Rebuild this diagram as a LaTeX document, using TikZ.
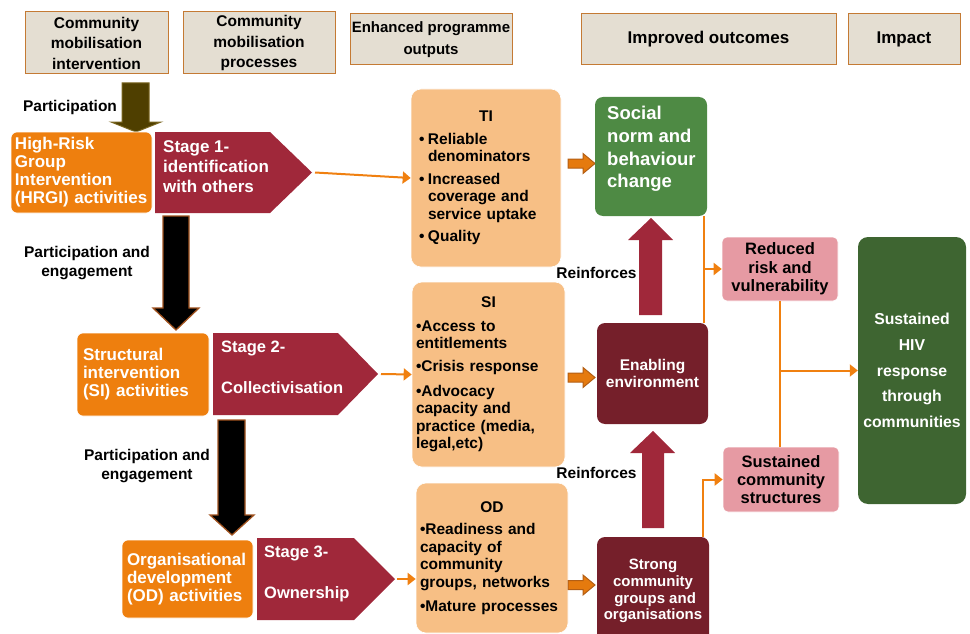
\documentclass[tikz,border=0pt]{standalone}
\usepackage{fontspec}
\setmainfont{Liberation Sans}
\usetikzlibrary{arrows.meta,calc}
\hyphenpenalty=10000
\exhyphenpenalty=10000
\definecolor{hdrfill}{HTML}{E4DED2}
\definecolor{hdrdraw}{HTML}{C47A34}
\definecolor{actfill}{HTML}{EE7F0E}
\definecolor{crim}{HTML}{A0283A}
\definecolor{outfill}{HTML}{F7BF85}
\definecolor{socgreen}{HTML}{4E8A44}
\definecolor{maroonbox}{HTML}{751F2A}
\definecolor{pinkbox}{HTML}{E69AA3}
\definecolor{hivgreen}{HTML}{3E6531}
\definecolor{connc}{HTML}{F08010}
\definecolor{thickfill}{HTML}{E57A0E}
\definecolor{thickdraw}{HTML}{B35E14}
\definecolor{olivefill}{HTML}{4F3F00}
\definecolor{olivedraw}{HTML}{7A6620}
\definecolor{blkdraw}{HTML}{A0521E}
\newcommand\fsz[2]{\fontsize{#1}{#2}\selectfont\bfseries}
\newcommand\bul{\makebox[9pt][l]{\textbullet}}
\newcommand\blockR[1]{\filldraw[thickarr] (568,#1-4.5) -- (583,#1-4.5) -- (583,#1-10) -- (595,#1) -- (583,#1+10) -- (583,#1+4.5) -- (568,#1+4.5) -- cycle;}
\begin{document}
\begin{tikzpicture}[x=1pt,y=-1pt,
  hdr/.style={draw=hdrdraw, fill=hdrfill, line width=1pt, inner sep=0pt, align=center},
  actbox/.style={fill=actfill, draw=white, line width=0.6pt, rounded corners=6pt, text=white, align=left, font=\fsz{17}{18}},
  stagetext/.style={text=white, align=left, inner sep=0pt, anchor=west},
  outbox/.style={fill=outfill, draw=white, line width=0.6pt, rounded corners=10pt, align=left},
  darkbox/.style={rounded corners=8pt, text=white, align=center, inner sep=0pt},
  pinkstyle/.style={fill=pinkbox, draw=white, line width=0.6pt, rounded corners=5pt, align=center, inner sep=0pt, font=\fsz{16.5}{18.3}},
  lbl/.style={align=center, inner sep=0pt, font=\fsz{15.5}{19}},
  conn/.style={draw=connc, line width=2pt, -{Triangle[length=8pt,width=12pt]}},
  connline/.style={draw=connc, line width=2pt},
  thickarr/.style={fill=thickfill, draw=thickdraw, line width=1pt},
  bigblack/.style={fill=black, draw=blkdraw, line width=1.3pt},
  reinf/.style={fill=crim}]
\useasboundingbox (0,0) rectangle (970,634);

% headers
\node[hdr, minimum width=143pt, minimum height=62pt, font=\fsz{15.5}{20.5}] (h1) at (96.5,43) {Community\\mobilisation\\intervention};
\node[hdr, minimum width=152pt, minimum height=62pt, font=\fsz{15.5}{20.5}] (h2) at (259,43) {Community\\mobilisation\\processes};
\node[hdr, minimum width=162pt, minimum height=51pt, font=\fsz{15}{22}] (h3) at (431,39.5) {Enhanced programme\\outputs};
\node[hdr, minimum width=255pt, minimum height=51pt, font=\fsz{17}{20}] (h4) at (708.5,39.5) {Improved outcomes};
\node[hdr, minimum width=112pt, minimum height=51pt, font=\fsz{17}{20}] (h5) at (904,39.5) {Impact};

% participation arrow
\filldraw[fill=olivefill, draw=olivedraw, line width=1pt] (122,83) -- (149,83) -- (149,122) -- (161,122) -- (136,132) -- (111,122) -- (122,122) -- cycle;
\node[lbl] (plbl) at (70,107) {Participation};

% activity boxes
\node[actbox, minimum width=141pt, minimum height=81pt, inner xsep=4pt, text width=133pt] (hrgi) at (81.5,172.5) {High-Risk\\Group\\Intervention\\(HRGI) activities};
\node[actbox, minimum width=132pt, minimum height=83pt, inner xsep=6pt, text width=120pt] (siact) at (143,374.5) {Structural\\intervention\\(SI) activities};
\node[actbox, minimum width=131pt, minimum height=78pt, inner xsep=5pt, text width=121pt] (odact) at (187.5,579) {Organisational\\development\\(OD) activities};

% stage arrows
\fill[crim] (155,132) -- (270,132) -- (312,172.5) -- (270,213) -- (155,213) -- cycle;
\coordinate (s1tip) at (312,172.5);
\node[stagetext, font=\fsz{17}{20}] (s1) at (163,167) {Stage 1-\\identification\\with others};
\fill[crim] (213,333) -- (338,333) -- (378,374) -- (338,415) -- (213,415) -- cycle;
\coordinate (s2tip) at (378,374);
\node[stagetext, font=\fsz{16.5}{20.5}] (s2) at (221,367.5) {Stage 2-\\[20.5pt]Collectivisation};
\fill[crim] (257,538) -- (354,538) -- (395,579) -- (354,620) -- (257,620) -- cycle;
\coordinate (s3tip) at (395,579);
\node[stagetext, font=\fsz{16.5}{20.5}] (s3) at (264,573.5) {Stage 3-\\[20.5pt]Ownership};

% black arrows
\filldraw[bigblack] (163,216) -- (189,216) -- (189,308) -- (199,308) -- (176,330) -- (153,308) -- (163,308) -- cycle;
\filldraw[bigblack] (218,420) -- (245,420) -- (245,515) -- (254,515) -- (232,535) -- (210,515) -- (218,515) -- cycle;
\node[lbl] (pe1) at (87,263.5) {Participation and\\engagement};
\node[lbl] (pe2) at (147,466.5) {Participation and\\engagement};

% output boxes
\node[outbox, minimum width=150pt, minimum height=178pt, inner xsep=8pt, text width=134pt, font=\fsz{15.5}{17.5}] (ti) at (486,178)
  {\makebox[\linewidth][c]{TI}\\[5pt]
   \bul Reliable\\\hspace*{9pt}denominators\\[5pt]
   \bul Increased\\\hspace*{9pt}coverage and\\\hspace*{9pt}service uptake\\[5pt]
   \bul Quality};
\node[outbox, minimum width=153pt, minimum height=185pt, inner xsep=4pt, text width=145pt, font=\fsz{15.5}{17.5}] (si) at (488.5,374.5)
  {\makebox[\linewidth][c]{SI}\\[6pt]
   \textbullet Access to\\entitlements\\[5.5pt]
   \textbullet Crisis response\\[7pt]
   \textbullet Advocacy\\capacity and\\practice (media,\\legal,etc)};
\node[outbox, minimum width=152pt, minimum height=150pt, inner xsep=4pt, text width=144pt, font=\fsz{15.5}{17.5}] (od) at (492,558)
  {\makebox[\linewidth][c]{OD}\\[4.5pt]
   \textbullet Readiness and\\capacity of\\community\\groups, networks\\[6.5pt]
   \textbullet Mature processes};

% thin connectors from stages
\draw[conn] ([xshift=3pt]s1tip) -- (ti.west);
\draw[conn] ([xshift=3pt]s2tip) -- (si.west);
\draw[conn] ([xshift=2pt]s3tip) -- (s3tip -| od.west);

% thick orange arrows
\blockR{163.5}
\blockR{377.5}
\blockR{585}

% outcome boxes
\node[darkbox, fill=socgreen, minimum width=112pt, minimum height=119pt] (soc) at (651,156.5) {};
\node[stagetext, font=\fsz{18.5}{22.7}] (soctext) at (607,149) {Social\\norm and\\behaviour\\change};
\node[darkbox, fill=maroonbox, minimum width=111pt, minimum height=101pt, font=\fsz{15.5}{17}] (env) at (652.5,373.5) {Enabling\\environment};
\node[darkbox, fill=maroonbox, minimum width=112pt, minimum height=108pt, font=\fsz{15}{16.7}] (str) at (653,591) {Strong\\community\\\ groups and\\organisations};

% reinforce arrows
\fill[reinf] (639,315) -- (639,240) -- (628,240) -- (651,218) -- (673,240) -- (662,240) -- (662,315) -- cycle;
\fill[reinf] (642,528) -- (642,453) -- (630,453) -- (653,431) -- (675,453) -- (664,453) -- (664,528) -- cycle;
\node[lbl] (rf1) at (596.5,273) {Reinforces};
\node[lbl] (rf2) at (596.5,473) {Reinforces};

% pink boxes
\node[pinkstyle, minimum width=116pt, minimum height=64pt] (rr) at (780,269) {Reduced\\risk and\\vulnerability};
\node[pinkstyle, minimum width=116pt, minimum height=65pt] (scs) at (781,479.5) {Sustained\\community\\structures};

% impact
\node[darkbox, fill=hivgreen, rounded corners=10pt, minimum width=108pt, minimum height=267pt, font=\fsz{15.8}{25.7}] (hiv) at (912,370.5) {Sustained\\HIV\\response\\through\\communities};

% tree connectors
\draw[connline] ([xshift=-3pt]soc.south east) -- ([xshift=-3pt]soc.south east |- env.north);
\draw[conn] ([xshift=-3pt]soc.south east |- rr.west) -- (rr.west);
\draw[conn] ([xshift=-6pt]str.north east) |- (scs.west);
\draw[connline] (rr.south) -- (rr.south |- scs.north);
\draw[conn] (rr.south |- hiv.west) -- (hiv.west);
\end{tikzpicture}
\end{document}
